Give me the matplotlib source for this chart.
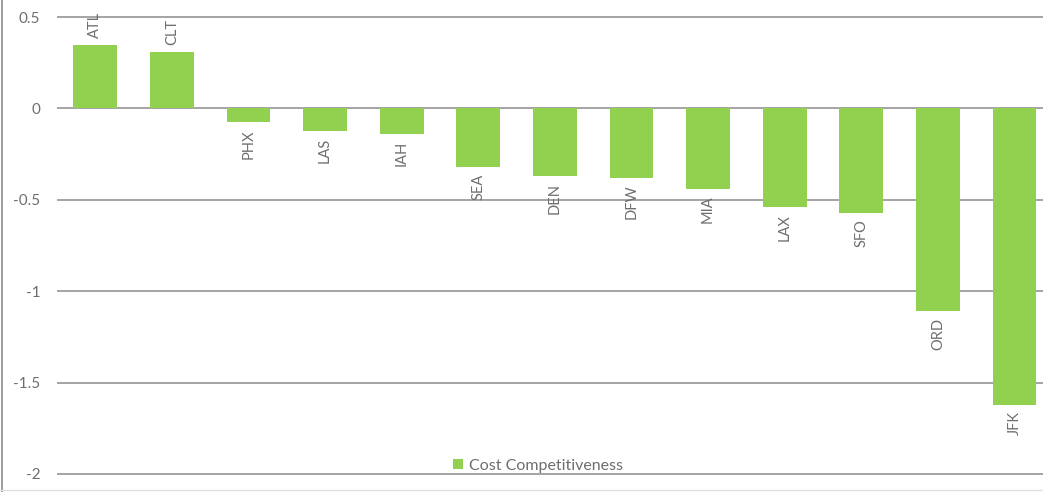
import matplotlib.pyplot as plt
from matplotlib.lines import Line2D

airports = ['ATL', 'CLT', 'PHX', 'LAS', 'IAH', 'SEA', 'DEN', 'DFW', 'MIA', 'LAX', 'SFO', 'ORD', 'JFK']
values = [0.345, 0.31, -0.075, -0.125, -0.14, -0.32, -0.37, -0.38, -0.44, -0.54, -0.57, -1.11, -1.62]
yticks = [0.5, 0, -0.5, -1, -1.5, -2]
ytick_labels = ['0.5', '0', '-0.5', '-1', '-1.5', '-2']

plt.rcParams['font.family'] = ['Lato', 'DejaVu Sans']

fig = plt.figure(figsize=(10.43, 4.92), dpi=100)
ax = fig.add_axes([57 / 1043, 0.0181, 1 - 57 / 1043, 0.984 - 0.0181])

x = range(len(airports))
ax.bar(x, values, width=0.57, color='#92D050', zorder=3, label='Cost Competitiveness')

# подписи категорий у конца столбца
for i, v in enumerate(values):
    if v >= 0:
        ax.annotate(airports[i], (i, v), xytext=(0, 5), textcoords='offset points',
                    rotation=90, ha='center', va='bottom', fontsize=10.5, color='#6e6e6e')
    else:
        ax.annotate(airports[i], (i, v), xytext=(0, -5), textcoords='offset points',
                    rotation=90, ha='center', va='top', fontsize=10.5, color='#6e6e6e')

ax.set_xlim(-0.5, -0.5 + (1043 - 57) / 76.6)
ax.set_ylim(-2.05, 0.55)
ax.set_yticks(yticks)
ax.set_yticklabels(ytick_labels, fontsize=11, color='#6e6e6e')
ax.set_xticks([])
ax.tick_params(axis='y', length=0, pad=12)
ax.grid(axis='y', color='#8c8c8c', linewidth=1.1, zorder=1)
for s in ax.spines.values():
    s.set_visible(False)

fig.legend(loc='center', bbox_to_anchor=(0.516, 0.053), frameon=False, fontsize=11.5,
           handlelength=0.6, handleheight=0.6, handletextpad=0.4, labelcolor='#6e6e6e')

# рамка слева и снизу
fig.add_artist(Line2D([2 / 1043, 2 / 1043], [0, 1], color='#8c8c8c', linewidth=1.2))
fig.add_artist(Line2D([0, 1], [0.004, 0.004], color='#e0e0e0', linewidth=1))

fig.savefig('out.png', dpi=100)
